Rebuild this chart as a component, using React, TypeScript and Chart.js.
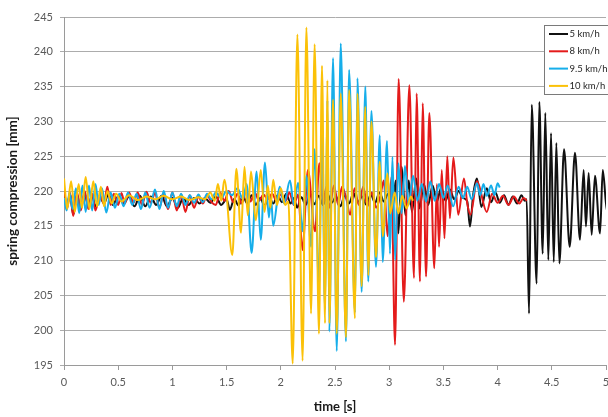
import { useEffect, useRef } from "react";
import { Chart, registerables } from "chart.js";

Chart.register(...registerables);

const seriesLabels = ["5 km/h", "8 km/h", "9.5 km/h", "10 km/h"];
const seriesColors = ["#111111", "#e41b1b", "#16aeea", "#fbc108"];
const timeTicks = [0, 0.5, 1, 1.5, 2, 2.5, 3, 3.5, 4, 4.5, 5];
const compressionTicks = [195, 200, 205, 210, 215, 220, 225, 230, 235, 240, 245];

// [time s, spring compression mm]
const speed5: [number, number][] = [
  [0, 219.2], [0.03, 218.0], [0.055, 219.6], [0.085, 216.6], [0.12, 219.4], [0.155, 217.6], [0.19, 219.6],
  [0.225, 217.9], [0.26, 219.4], [0.29, 217.8], [0.33, 219.2], [0.37, 218.2], [0.41, 219.6], [0.45, 218.0],
  [0.5, 219.2], [0.55, 218.2], [0.6, 219.2], [0.65, 217.8], [0.7, 219.3], [0.75, 217.8], [0.8, 219.2],
  [0.85, 218.0], [0.9, 219.3], [0.95, 217.8], [1.0, 219.0], [1.05, 217.6], [1.1, 219.0], [1.15, 218.0],
  [1.2, 219.0], [1.25, 218.2], [1.3, 219.0], [1.35, 218.3], [1.4, 219.2], [1.45, 218.0], [1.5, 218.8],
  [1.53, 217.3], [1.57, 218.9], [1.61, 217.9], [1.65, 219.3], [1.69, 218.2], [1.73, 219.4], [1.77, 218.0],
  [1.81, 219.0], [1.85, 217.9], [1.89, 219.2], [1.93, 218.2], [1.97, 219.4], [2.01, 218.4], [2.05, 219.6],
  [2.09, 218.2], [2.12, 219.0], [2.15, 217.6], [2.19, 219.1], [2.23, 218.0], [2.27, 219.5], [2.31, 218.1],
  [2.35, 219.3], [2.39, 218.0], [2.43, 219.6], [2.47, 218.3], [2.51, 219.2], [2.55, 217.8], [2.59, 219.4],
  [2.63, 218.2], [2.67, 219.7], [2.71, 218.4], [2.75, 219.2], [2.79, 218.0], [2.83, 219.5], [2.87, 218.3],
  [2.91, 219.8], [2.95, 218.5], [2.99, 219.6], [3.03, 217.5], [3.06, 221.5], [3.085, 213.9], [3.115, 223.5],
  [3.15, 216.5], [3.18, 221.5], [3.21, 217.0], [3.25, 221.8], [3.28, 217.5], [3.32, 221.0], [3.36, 218.0],
  [3.4, 220.8], [3.44, 218.5], [3.48, 220.5], [3.52, 218.6], [3.56, 220.2], [3.6, 218.8], [3.64, 220.0],
  [3.68, 219.0], [3.72, 218.5], [3.745, 214.9], [3.775, 219.5], [3.81, 221.8], [3.85, 217.7], [3.9, 220.4],
  [3.94, 218.4], [3.98, 219.8], [4.02, 218.3], [4.06, 219.4], [4.1, 218.0], [4.14, 219.2], [4.18, 218.2],
  [4.22, 219.4], [4.25, 218.6], [4.268, 218.8], [4.29, 202.4], [4.315, 232.4], [4.36, 206.7], [4.385, 232.8],
  [4.416, 211.0], [4.44, 231.2], [4.468, 210.1], [4.493, 228.3], [4.518, 209.8], [4.542, 226.9], [4.57, 209.6],
  [4.613, 226.0], [4.665, 212.0], [4.714, 225.5], [4.76, 213.0], [4.794, 223.0], [4.815, 214.9], [4.84, 222.6],
  [4.868, 213.7], [4.898, 222.2], [4.945, 213.9], [4.97, 223.0], [5.01, 217.0], [5.03, 221.5],
];

const speed8: [number, number][] = [
  [0, 220.2], [0.03, 217.6], [0.055, 219.8], [0.085, 216.4], [0.12, 219.8], [0.155, 217.2], [0.19, 220.0],
  [0.225, 217.4], [0.26, 219.6], [0.29, 217.2], [0.33, 219.4], [0.37, 218.2], [0.4, 220.6], [0.43, 218.0],
  [0.46, 219.6], [0.5, 218.0], [0.53, 219.7], [0.56, 218.2], [0.6, 219.8], [0.64, 218.3], [0.68, 219.8],
  [0.72, 218.0], [0.76, 219.9], [0.8, 218.3], [0.84, 219.7], [0.88, 217.6], [0.92, 219.6], [0.96, 217.4],
  [1.0, 219.8], [1.04, 217.2], [1.08, 219.5], [1.12, 217.0], [1.16, 219.4], [1.2, 217.6], [1.24, 219.2],
  [1.28, 218.2], [1.32, 219.4], [1.36, 218.4], [1.4, 218.0], [1.44, 219.8], [1.48, 218.6], [1.52, 220.0],
  [1.56, 218.4], [1.6, 219.6], [1.64, 218.2], [1.68, 220.0], [1.72, 218.5], [1.76, 219.8], [1.8, 218.6],
  [1.84, 219.5], [1.88, 218.8], [1.92, 219.6], [1.96, 218.6], [2.0, 219.5], [2.04, 218.5], [2.08, 219.8],
  [2.12, 218.0], [2.16, 219.5], [2.2, 211.5], [2.25, 223.0], [2.316, 214.2], [2.356, 224.0], [2.39, 218.0],
  [2.42, 220.6], [2.45, 217.6], [2.49, 220.8], [2.53, 218.0], [2.565, 220.6], [2.6, 219.2], [2.64, 216.6],
  [2.68, 220.4], [2.72, 218.0], [2.76, 220.6], [2.8, 217.8], [2.84, 219.8], [2.88, 217.6], [2.92, 219.4],
  [2.95, 221.5], [2.985, 213.5], [3.02, 222.0], [3.054, 197.9], [3.087, 236.1], [3.135, 204.1], [3.186, 235.2],
  [3.229, 207.5], [3.253, 234.0], [3.284, 207.0], [3.309, 232.6], [3.34, 207.7], [3.37, 231.2], [3.416, 208.9],
  [3.44, 221.0], [3.46, 212.0], [3.485, 223.0], [3.51, 213.2], [3.536, 225.0], [3.56, 216.1], [3.592, 224.8],
  [3.637, 216.6], [3.69, 221.8], [3.72, 218.2], [3.75, 216.6], [3.81, 221.4], [3.9, 217.0], [3.95, 219.6],
  [4.0, 218.3], [4.05, 219.3], [4.1, 218.0], [4.15, 219.2], [4.2, 218.2], [4.24, 219.0], [4.27, 218.6],
];

const speed95: [number, number][] = [
  [0, 219.0], [0.025, 217.2], [0.05, 219.8], [0.08, 217.4], [0.11, 220.4], [0.14, 216.8], [0.17, 220.8],
  [0.2, 217.0], [0.23, 220.8], [0.26, 217.2], [0.29, 221.0], [0.32, 218.0], [0.35, 220.4], [0.39, 216.9],
  [0.43, 219.8], [0.47, 217.6], [0.51, 219.6], [0.55, 217.8], [0.59, 219.8], [0.63, 218.0], [0.67, 219.6],
  [0.71, 217.4], [0.75, 219.8], [0.79, 217.6], [0.84, 220.2], [0.88, 217.4], [0.92, 220.0], [0.96, 217.6],
  [1.0, 219.8], [1.04, 217.8], [1.08, 219.6], [1.12, 218.0], [1.16, 219.4], [1.2, 218.3], [1.24, 219.5],
  [1.28, 218.4], [1.32, 219.6], [1.36, 218.8], [1.4, 219.8], [1.45, 219.0], [1.5, 220.0], [1.55, 219.4],
  [1.6, 220.4], [1.65, 218.8], [1.685, 221.0], [1.731, 211.1], [1.777, 222.8], [1.815, 213.0], [1.854, 224.1],
  [1.89, 216.2], [1.91, 219.0], [1.93, 215.0], [1.99, 220.6], [2.03, 218.2], [2.085, 221.5], [2.12, 218.0],
  [2.16, 221.2], [2.2, 214.2], [2.236, 222.2], [2.279, 212.0], [2.312, 226.0], [2.352, 206.0], [2.38, 230.0],
  [2.408, 203.0], [2.43, 233.0], [2.448, 199.8], [2.482, 239.1], [2.516, 197.0], [2.553, 241.2], [2.601, 198.4],
  [2.63, 237.4], [2.684, 202.5], [2.707, 236.2], [2.746, 205.5], [2.78, 235.0], [2.807, 207.0], [2.836, 231.5],
  [2.878, 209.1], [2.913, 228.0], [2.94, 209.8], [2.98, 227.2], [3.007, 211.0], [3.03, 224.9], [3.055, 210.1],
  [3.085, 224.0], [3.115, 216.8], [3.145, 223.6], [3.18, 218.0], [3.22, 222.2], [3.26, 218.6], [3.3, 221.0],
  [3.34, 218.5], [3.38, 221.4], [3.42, 218.6], [3.46, 221.0], [3.5, 219.0], [3.54, 220.8], [3.59, 217.8],
  [3.64, 220.6], [3.68, 219.0], [3.72, 220.6], [3.76, 218.8], [3.81, 221.1], [3.84, 219.4], [3.87, 221.0],
  [3.9, 219.3], [3.94, 220.8], [3.97, 219.4], [4.0, 221.1], [4.02, 220.5],
];

const speed10: [number, number][] = [
  [0, 221.8], [0.03, 217.4], [0.065, 221.4], [0.1, 217.0], [0.135, 221.0], [0.165, 217.6], [0.2, 222.0],
  [0.235, 217.4], [0.27, 221.4], [0.305, 217.8], [0.34, 220.6], [0.37, 217.8], [0.4, 220.0], [0.44, 218.2],
  [0.48, 219.6], [0.53, 218.5], [0.6, 219.4], [0.68, 218.7], [0.76, 219.2], [0.84, 218.8], [0.92, 219.3],
  [1.0, 218.8], [1.08, 219.2], [1.16, 218.7], [1.24, 219.1], [1.3, 218.8], [1.35, 219.8], [1.39, 218.6],
  [1.42, 221.0], [1.45, 218.6], [1.48, 221.6], [1.553, 210.8], [1.59, 223.2], [1.633, 214.0], [1.665, 223.5],
  [1.695, 216.5], [1.725, 222.8], [1.77, 215.8], [1.815, 223.0], [1.85, 217.0], [1.88, 220.8], [1.905, 217.6],
  [1.93, 221.6], [1.965, 218.0], [2.0, 220.4], [2.04, 218.0], [2.07, 218.5], [2.11, 195.2], [2.153, 242.5],
  [2.201, 195.6], [2.236, 243.5], [2.279, 202.4], [2.312, 241.1], [2.352, 199.5], [2.38, 238.0], [2.408, 201.0],
  [2.43, 235.9], [2.448, 201.0], [2.482, 233.1], [2.516, 199.5], [2.553, 234.0], [2.601, 199.0], [2.63, 234.5],
  [2.684, 201.7], [2.707, 234.0], [2.746, 206.3], [2.78, 232.1], [2.807, 207.9], [2.836, 230.0], [2.878, 210.5],
  [2.913, 224.2], [2.94, 213.5], [2.984, 222.5], [3.01, 216.8], [3.05, 219.8], [3.085, 216.8], [3.12, 219.3],
  [3.16, 217.5], [3.2, 219.2], [3.22, 218.6],
];

const allSeries = [speed5, speed8, speed95, speed10];

const FONT = "Lato, 'Open Sans', 'DejaVu Sans', sans-serif";

const legendBoxPlugin = {
  id: "legendBox",
  afterDatasetsDraw(chart: any) {
    const { ctx, chartArea } = chart;
    const bx = chartArea.right - 61.5;
    const by = chartArea.top + 8.5;
    ctx.save();
    ctx.fillStyle = "#ffffff";
    ctx.strokeStyle = "#7a7a7a";
    ctx.lineWidth = 1;
    ctx.fillRect(bx, by, 72, 69);
    ctx.strokeRect(bx, by, 72, 69);
    ctx.font = `9.5px ${FONT}`;
    ctx.textBaseline = "middle";
    ctx.textAlign = "left";
    chart.data.datasets.forEach((ds: any, i: number) => {
      const y = by + 8.5 + i * 17.3;
      ctx.strokeStyle = ds.borderColor;
      ctx.lineWidth = 2;
      ctx.beginPath();
      ctx.moveTo(bx + 4.5, y);
      ctx.lineTo(bx + 23.5, y);
      ctx.stroke();
      ctx.fillStyle = "#262626";
      ctx.fillText(ds.label, bx + 25, y);
    });
    ctx.restore();
  },
};

export default function App() {
  const canvasRef = useRef<HTMLCanvasElement | null>(null);

  useEffect(() => {
    if (!canvasRef.current) return;
    const chart = new Chart(canvasRef.current, {
      type: "line",
      data: {
        datasets: allSeries.map((pts, i) => ({
          label: seriesLabels[i],
          data: pts.map(([x, y]) => ({ x, y })),
          borderColor: seriesColors[i],
          backgroundColor: seriesColors[i],
          borderWidth: 2,
          pointRadius: 0,
          fill: false,
          cubicInterpolationMode: "monotone" as const,
          order: 3 - i,
        })),
      },
      options: {
        animation: false,
        responsive: true,
        maintainAspectRatio: false,
        events: [],
        layout: { padding: { top: 17, right: 14, left: 0, bottom: 0 } },
        plugins: {
          legend: { display: false },
          tooltip: { enabled: false },
        },
        scales: {
          x: {
            type: "linear",
            min: 0,
            max: 5,
            afterBuildTicks: (scale: any) => {
              scale.ticks = timeTicks.map((v) => ({ value: v }));
            },
            afterFit: (scale: any) => {
              scale.height = 52;
            },
            grid: {
              drawOnChartArea: false,
              drawTicks: true,
              tickLength: 5,
              color: "#9a9a9a",
            },
            border: { display: true, color: "#9a9a9a", width: 1 },
            ticks: {
              padding: 6,
              color: "#595959",
              font: { family: FONT, size: 11 },
              maxRotation: 0,
              autoSkip: false,
              callback: (v: any) => String(v),
            },
            title: {
              display: true,
              text: "time [s]",
              color: "#1a1a1a",
              font: { family: FONT, size: 13, weight: "bold" },
              padding: { top: 0, bottom: 2 },
            },
          },
          y: {
            type: "linear",
            min: 195,
            max: 245,
            afterBuildTicks: (scale: any) => {
              scale.ticks = compressionTicks.map((v) => ({ value: v }));
            },
            afterFit: (scale: any) => {
              scale.width = 64;
            },
            grid: {
              drawOnChartArea: true,
              drawTicks: true,
              tickLength: 4,
              color: "#acacac",
            },
            border: { display: true, color: "#9a9a9a", width: 1 },
            ticks: {
              padding: 7,
              color: "#595959",
              font: { family: FONT, size: 11 },
              autoSkip: false,
              callback: (v: any) => String(v),
            },
            title: {
              display: true,
              text: "spring compression [mm]",
              color: "#1a1a1a",
              font: { family: FONT, size: 13.5, weight: "bold" },
              padding: { top: 5, bottom: 0 },
            },
          },
        },
      },
      plugins: [legendBoxPlugin],
    });
    return () => chart.destroy();
  }, []);

  return (
    <div
      style={{
        position: "fixed",
        left: 0,
        top: 0,
        width: "608px",
        height: "417px",
        overflow: "hidden",
        background: "#ffffff",
      }}
    >
      <div style={{ position: "relative", width: "620px", height: "417px" }}>
        <canvas ref={canvasRef} />
      </div>
    </div>
  );
}
